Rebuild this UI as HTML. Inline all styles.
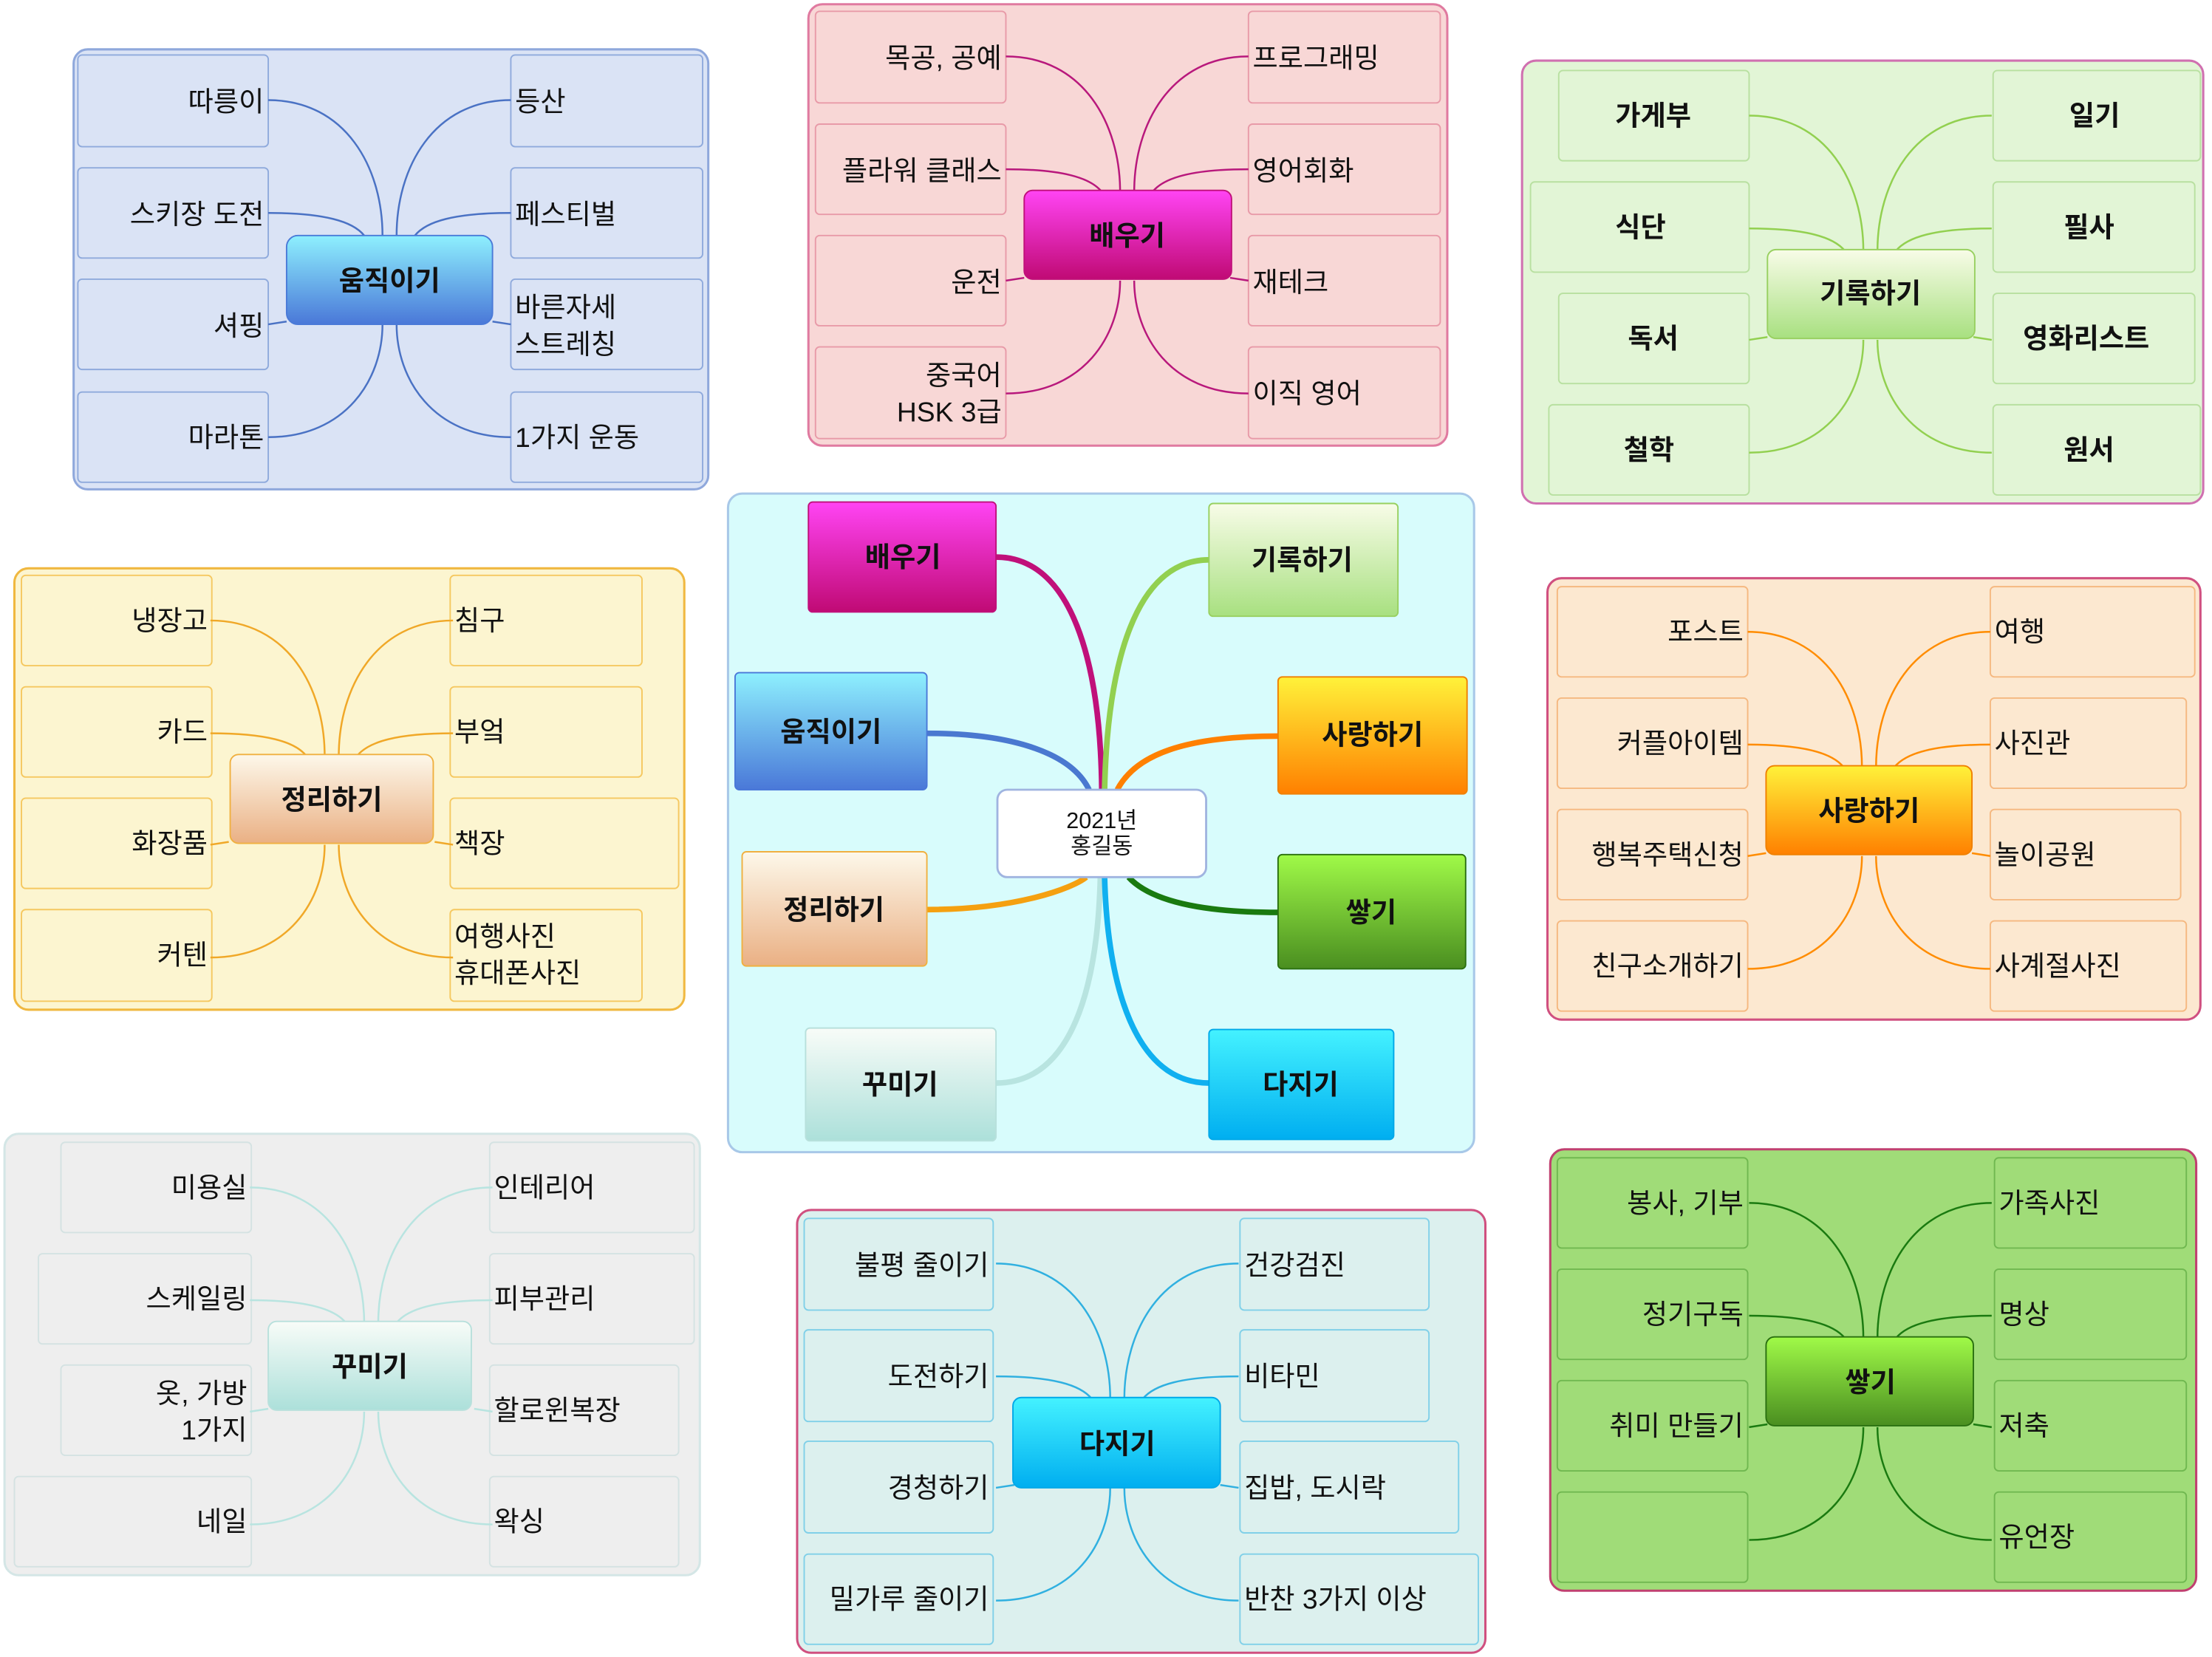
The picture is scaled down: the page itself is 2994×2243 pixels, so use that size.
<!DOCTYPE html>
<html><head><meta charset="utf-8"><style>
html,body{margin:0;padding:0;background:#fff}
svg{display:block}
text{font-family:"Liberation Sans","Noto Sans CJK KR","NanumGothic",sans-serif;fill:#111}
.l{font-size:19.5px;text-anchor:end;dominant-baseline:central}
.r{font-size:19.5px;text-anchor:start;dominant-baseline:central}
.n{font-size:19.5px;font-weight:bold;text-anchor:middle;dominant-baseline:central}
.b{font-size:19.5px;font-weight:bold;text-anchor:middle;dominant-baseline:central}
</style></head><body>
<svg width="2994" height="2243" viewBox="0 0 1568 1175" xmlns="http://www.w3.org/2000/svg">
<defs>
<linearGradient id="gBlue" x1="0" y1="0" x2="0" y2="1"><stop offset="0" stop-color="#8ef0fe"/><stop offset="1" stop-color="#4a78d8"/></linearGradient>
<linearGradient id="gPink" x1="0" y1="0" x2="0" y2="1"><stop offset="0" stop-color="#ff44f4"/><stop offset="1" stop-color="#c00a74"/></linearGradient>
<linearGradient id="gLG" x1="0" y1="0" x2="0" y2="1"><stop offset="0" stop-color="#f8fce8"/><stop offset="1" stop-color="#a8e080"/></linearGradient>
<linearGradient id="gPeach" x1="0" y1="0" x2="0" y2="1"><stop offset="0" stop-color="#fdf8ea"/><stop offset="1" stop-color="#eab084"/></linearGradient>
<linearGradient id="gOr" x1="0" y1="0" x2="0" y2="1"><stop offset="0" stop-color="#fff23a"/><stop offset="1" stop-color="#ff8000"/></linearGradient>
<linearGradient id="gGr" x1="0" y1="0" x2="0" y2="1"><stop offset="0" stop-color="#a0fa48"/><stop offset="1" stop-color="#4a8e20"/></linearGradient>
<linearGradient id="gMint" x1="0" y1="0" x2="0" y2="1"><stop offset="0" stop-color="#f8fcf8"/><stop offset="1" stop-color="#ace0da"/></linearGradient>
<linearGradient id="gCy" x1="0" y1="0" x2="0" y2="1"><stop offset="0" stop-color="#44f2ff"/><stop offset="1" stop-color="#00aef0"/></linearGradient>
<g id="conn" fill="none">
<path d="M135 32 C190 32 216 80 216 128"/>
<path d="M135 112 C175 112 195 118 203 128"/>
<path d="M135 191 L148 189"/>
<path d="M135 271 C190 271 216 230 216 191"/>
<path d="M307 32 C252 32 226 80 226 128"/>
<path d="M307 112 C267 112 247 118 239 128"/>
<path d="M307 191 L294 189"/>
<path d="M307 271 C252 271 226 230 226 191"/>
</g>
</defs>

<!-- Panel 움직이기 -->
<rect x="52" y="35" width="450" height="312" rx="10" fill="#dae3f5" stroke="#8fa8dc" stroke-width="1.6"/>
<g transform="translate(55,39)">
<g fill="#dae3f5" stroke="#8faadc" stroke-width="1">
<rect x="0" y="0" width="135" height="65" rx="3"/><rect x="0" y="80" width="135" height="64" rx="3"/><rect x="0" y="159" width="135" height="64" rx="3"/><rect x="0" y="239" width="135" height="64" rx="3"/>
<rect x="307" y="0" width="136" height="65" rx="3"/><rect x="307" y="80" width="136" height="64" rx="3"/><rect x="307" y="159" width="136" height="64" rx="3"/><rect x="307" y="239" width="136" height="64" rx="3"/>
</g>
<use href="#conn" stroke="#4a72c4" stroke-width="1.3"/>
<rect x="148" y="128" width="146" height="63" rx="8" fill="url(#gBlue)" stroke="#4a7ad8"/>
<text class="n" x="221" y="160">움직이기</text>
<text class="l" x="132" y="33">따릉이</text><text class="l" x="132" y="113">스키장 도전</text><text class="l" x="132" y="192">셔핑</text><text class="l" x="132" y="271">마라톤</text>
<text class="r" x="310" y="33">등산</text><text class="r" x="310" y="113">페스티벌</text><text class="r" x="310" y="179">바른자세</text><text class="r" x="310" y="205">스트레칭</text><text class="r" x="310" y="271">1가지 운동</text>
</g>

<!-- Panel 배우기 -->
<rect x="573" y="3" width="453" height="313" rx="10" fill="#f8d7d6" stroke="#e07aa0" stroke-width="1.6"/>
<g transform="translate(578,8)">
<g fill="#f8d7d6" stroke="#e89aa8" stroke-width="1">
<rect x="0" y="0" width="135" height="65" rx="3"/><rect x="0" y="80" width="135" height="64" rx="3"/><rect x="0" y="159" width="135" height="64" rx="3"/><rect x="0" y="238" width="135" height="65" rx="3"/>
<rect x="307" y="0" width="136" height="65" rx="3"/><rect x="307" y="80" width="136" height="64" rx="3"/><rect x="307" y="159" width="136" height="64" rx="3"/><rect x="307" y="238" width="136" height="65" rx="3"/>
</g>
<use href="#conn" stroke="#b8187c" stroke-width="1.3"/>
<rect x="148" y="127" width="147" height="63" rx="6" fill="url(#gPink)" stroke="#c0107a"/>
<text class="n" x="221" y="159">배우기</text>
<text class="l" x="132" y="33">목공, 공예</text><text class="l" x="132" y="113">플라워 클래스</text><text class="l" x="132" y="192">운전</text><text class="l" x="132" y="258">중국어</text><text class="l" x="132" y="284">HSK 3급</text>
<text class="r" x="310" y="33">프로그래밍</text><text class="r" x="310" y="113">영어회화</text><text class="r" x="310" y="192">재테크</text><text class="r" x="310" y="271">이직 영어</text>
</g>

<!-- Panel 기록하기 -->
<rect x="1079" y="43" width="483" height="314" rx="10" fill="#e2f5d6" stroke="#d070b0" stroke-width="1.6"/>
<g transform="translate(1105,50)">
<g fill="#e2f5d6" stroke="#b8e0a0" stroke-width="1">
<rect x="0" y="0" width="135" height="64" rx="3"/><rect x="-20" y="79" width="155" height="64" rx="3"/><rect x="0" y="158" width="135" height="64" rx="3"/><rect x="-7" y="237" width="142" height="64" rx="3"/>
<rect x="308" y="0" width="147" height="64" rx="3"/><rect x="308" y="79" width="143" height="64" rx="3"/><rect x="308" y="158" width="143" height="64" rx="3"/><rect x="308" y="237" width="147" height="64" rx="3"/>
</g>
<use href="#conn" stroke="#92d050" stroke-width="1.3"/>
<rect x="148" y="127" width="147" height="63" rx="6" fill="url(#gLG)" stroke="#98d060"/>
<text class="n" x="221" y="158">기록하기</text>
<text class="b" x="67" y="32">가게부</text><text class="b" x="58" y="111">식단</text><text class="b" x="67" y="190">독서</text><text class="b" x="64" y="269">철학</text>
<text class="b" x="380" y="32">일기</text><text class="b" x="376" y="111">필사</text><text class="b" x="374" y="190">영화리스트</text><text class="b" x="376" y="269">원서</text>
</g>

<!-- Panel 정리하기 -->
<rect x="10" y="403" width="475" height="313" rx="10" fill="#fcf5d0" stroke="#f0b840" stroke-width="1.6"/>
<g transform="translate(15,408)">
<g fill="#fcf5d0" stroke="#f5c860" stroke-width="1">
<rect x="0" y="0" width="135" height="64" rx="3"/><rect x="0" y="79" width="135" height="64" rx="3"/><rect x="0" y="158" width="135" height="64" rx="3"/><rect x="0" y="237" width="135" height="65" rx="3"/>
<rect x="304" y="0" width="136" height="64" rx="3"/><rect x="304" y="79" width="136" height="64" rx="3"/><rect x="304" y="158" width="162" height="64" rx="3"/><rect x="304" y="237" width="136" height="65" rx="3"/>
</g>
<use href="#conn" stroke="#f0a828" stroke-width="1.3" transform="translate(-1,0)"/>
<rect x="148" y="127" width="144" height="63" rx="6" fill="url(#gPeach)" stroke="#f0b040"/>
<text class="n" x="220" y="159">정리하기</text>
<text class="l" x="132" y="32">냉장고</text><text class="l" x="132" y="111">카드</text><text class="l" x="132" y="190">화장품</text><text class="l" x="132" y="269">커텐</text>
<text class="r" x="307" y="32">침구</text><text class="r" x="307" y="111">부엌</text><text class="r" x="307" y="190">책장</text><text class="r" x="307" y="256">여행사진</text><text class="r" x="307" y="282">휴대폰사진</text>
</g>

<!-- Central panel -->
<rect x="516" y="350" width="529" height="467" rx="10" fill="#d8fcfc" stroke="#a8c8e8" stroke-width="1.6"/>
<g fill="none" stroke-width="4">
<path d="M706 395 C760 395 780 470 781 560" stroke="#c0107a"/>
<path d="M857 397 C805 397 785 470 783 560" stroke="#92d050"/>
<path d="M657 520 C720 520 760 535 772 560" stroke="#4a78d0"/>
<path d="M906 522 C840 522 805 535 792 560" stroke="#ff8000"/>
<path d="M657 645 C720 645 760 630 770 622" stroke="#f5a010"/>
<path d="M906 647 C840 647 812 635 800 622" stroke="#1a7a10"/>
<path d="M706 768 C760 768 778 700 780 622" stroke="#b8e4e0"/>
<path d="M857 768 C805 768 785 700 783 622" stroke="#10b0f0"/>
</g>
<rect x="707" y="560" width="148" height="62" rx="7" fill="#fff" stroke="#a0b4e0" stroke-width="1.5"/>
<text x="781" y="582" style="font-size:16px;text-anchor:middle;dominant-baseline:central">2021년</text>
<text x="781" y="600" style="font-size:16px;text-anchor:middle;dominant-baseline:central">홍길동</text>
<rect x="573" y="356" width="133" height="78" rx="3" fill="url(#gPink)" stroke="#c0107a"/><text class="n" x="640" y="395">배우기</text>
<rect x="857" y="357" width="134" height="80" rx="3" fill="url(#gLG)" stroke="#98d060"/><text class="n" x="923" y="397">기록하기</text>
<rect x="521" y="477" width="136" height="83" rx="3" fill="url(#gBlue)" stroke="#4a78d8"/><text class="n" x="589" y="519">움직이기</text>
<rect x="906" y="480" width="134" height="83" rx="3" fill="url(#gOr)" stroke="#f08000"/><text class="n" x="973" y="521">사랑하기</text>
<rect x="526" y="604" width="131" height="81" rx="3" fill="url(#gPeach)" stroke="#f0b040"/><text class="n" x="591" y="645">정리하기</text>
<rect x="906" y="606" width="133" height="81" rx="3" fill="url(#gGr)" stroke="#2a7010"/><text class="n" x="972" y="647">쌓기</text>
<rect x="571" y="729" width="135" height="80" rx="3" fill="url(#gMint)" stroke="#b8e0dc"/><text class="n" x="638" y="769">꾸미기</text>
<rect x="857" y="730" width="131" height="78" rx="3" fill="url(#gCy)" stroke="#00a8e8"/><text class="n" x="922" y="769">다지기</text>

<!-- Panel 사랑하기 -->
<rect x="1097" y="410" width="463" height="313" rx="10" fill="#fce8d0" stroke="#d05080" stroke-width="1.6"/>
<g transform="translate(1104,416)">
<g fill="#fce8d0" stroke="#f5b880" stroke-width="1">
<rect x="0" y="0" width="135" height="64" rx="3"/><rect x="0" y="79" width="135" height="64" rx="3"/><rect x="0" y="158" width="135" height="64" rx="3"/><rect x="0" y="237" width="135" height="64" rx="3"/>
<rect x="307" y="0" width="145" height="64" rx="3"/><rect x="307" y="79" width="139" height="64" rx="3"/><rect x="307" y="158" width="135" height="64" rx="3"/><rect x="307" y="237" width="139" height="64" rx="3"/>
</g>
<use href="#conn" stroke="#ff8c00" stroke-width="1.3"/>
<rect x="148" y="127" width="146" height="63" rx="6" fill="url(#gOr)" stroke="#f08000"/>
<text class="n" x="221" y="159">사랑하기</text>
<text class="l" x="132" y="32">포스트</text><text class="l" x="132" y="111">커플아이템</text><text class="l" x="132" y="190">행복주택신청</text><text class="l" x="132" y="269">친구소개하기</text>
<text class="r" x="310" y="32">여행</text><text class="r" x="310" y="111">사진관</text><text class="r" x="310" y="190">놀이공원</text><text class="r" x="310" y="269">사계절사진</text>
</g>

<!-- Panel 꾸미기 -->
<rect x="3" y="804" width="493" height="313" rx="10" fill="#eeeeee" stroke="#d4e6e6" stroke-width="1.6"/>
<g transform="translate(43,810)">
<g fill="#eeeeee" stroke="#d4e2e2" stroke-width="1">
<rect x="0" y="0" width="135" height="64" rx="3"/><rect x="-16" y="79" width="151" height="64" rx="3"/><rect x="0" y="158" width="135" height="64" rx="3"/><rect x="-33" y="237" width="168" height="64" rx="3"/>
<rect x="304" y="0" width="145" height="64" rx="3"/><rect x="304" y="79" width="145" height="64" rx="3"/><rect x="304" y="158" width="134" height="64" rx="3"/><rect x="304" y="237" width="134" height="64" rx="3"/>
</g>
<use href="#conn" stroke="#b8e4e0" stroke-width="1.3" transform="translate(-1,0)"/>
<rect x="147" y="127" width="144" height="63" rx="6" fill="url(#gMint)" stroke="#b8e0dc"/>
<text class="n" x="219" y="159">꾸미기</text>
<text class="l" x="132" y="32">미용실</text><text class="l" x="132" y="111">스케일링</text><text class="l" x="132" y="178">옷, 가방</text><text class="l" x="132" y="204">1가지</text><text class="l" x="132" y="269">네일</text>
<text class="r" x="307" y="32">인테리어</text><text class="r" x="307" y="111">피부관리</text><text class="r" x="307" y="190">할로윈복장</text><text class="r" x="307" y="269">왁싱</text>
</g>

<!-- Panel 다지기 -->
<rect x="565" y="858" width="488" height="314" rx="10" fill="#dcf0ee" stroke="#d05080" stroke-width="1.6"/>
<g transform="translate(570,864)">
<g fill="#dcf0ee" stroke="#80d0e8" stroke-width="1">
<rect x="0" y="0" width="134" height="65" rx="3"/><rect x="0" y="79" width="134" height="65" rx="3"/><rect x="0" y="158" width="134" height="65" rx="3"/><rect x="0" y="238" width="134" height="64" rx="3"/>
<rect x="309" y="0" width="134" height="65" rx="3"/><rect x="309" y="79" width="134" height="65" rx="3"/><rect x="309" y="158" width="155" height="65" rx="3"/><rect x="309" y="238" width="169" height="64" rx="3"/>
</g>
<use href="#conn" stroke="#30b0e0" stroke-width="1.3" transform="translate(1,0)"/>
<rect x="148" y="127" width="147" height="64" rx="6" fill="url(#gCy)" stroke="#00a8e8"/>
<text class="n" x="222" y="160">다지기</text>
<text class="l" x="131" y="33">불평 줄이기</text><text class="l" x="131" y="112">도전하기</text><text class="l" x="131" y="191">경청하기</text><text class="l" x="131" y="270">밀가루 줄이기</text>
<text class="r" x="312" y="33">건강검진</text><text class="r" x="312" y="112">비타민</text><text class="r" x="312" y="191">집밥, 도시락</text><text class="r" x="312" y="270">반찬 3가지 이상</text>
</g>

<!-- Panel 쌓기 -->
<rect x="1099" y="815" width="458" height="313" rx="10" fill="#a0dc78" stroke="#c04070" stroke-width="1.6"/>
<g transform="translate(1104,821)">
<g fill="#a0dc78" stroke="#70b850" stroke-width="1">
<rect x="0" y="0" width="135" height="64" rx="3"/><rect x="0" y="79" width="135" height="64" rx="3"/><rect x="0" y="158" width="135" height="64" rx="3"/><rect x="0" y="237" width="135" height="64" rx="3"/>
<rect x="310" y="0" width="136" height="64" rx="3"/><rect x="310" y="79" width="136" height="64" rx="3"/><rect x="310" y="158" width="136" height="64" rx="3"/><rect x="310" y="237" width="136" height="64" rx="3"/>
</g>
<use href="#conn" stroke="#1a7a10" stroke-width="1.3" transform="translate(1,0)"/>
<rect x="148" y="127" width="147" height="63" rx="6" fill="url(#gGr)" stroke="#2a7010"/>
<text class="n" x="222" y="159">쌓기</text>
<text class="l" x="132" y="32">봉사, 기부</text><text class="l" x="132" y="111">정기구독</text><text class="l" x="132" y="190">취미 만들기</text>
<text class="r" x="313" y="32">가족사진</text><text class="r" x="313" y="111">명상</text><text class="r" x="313" y="190">저축</text><text class="r" x="313" y="269">유언장</text>
</g>
</svg>
</body></html>
